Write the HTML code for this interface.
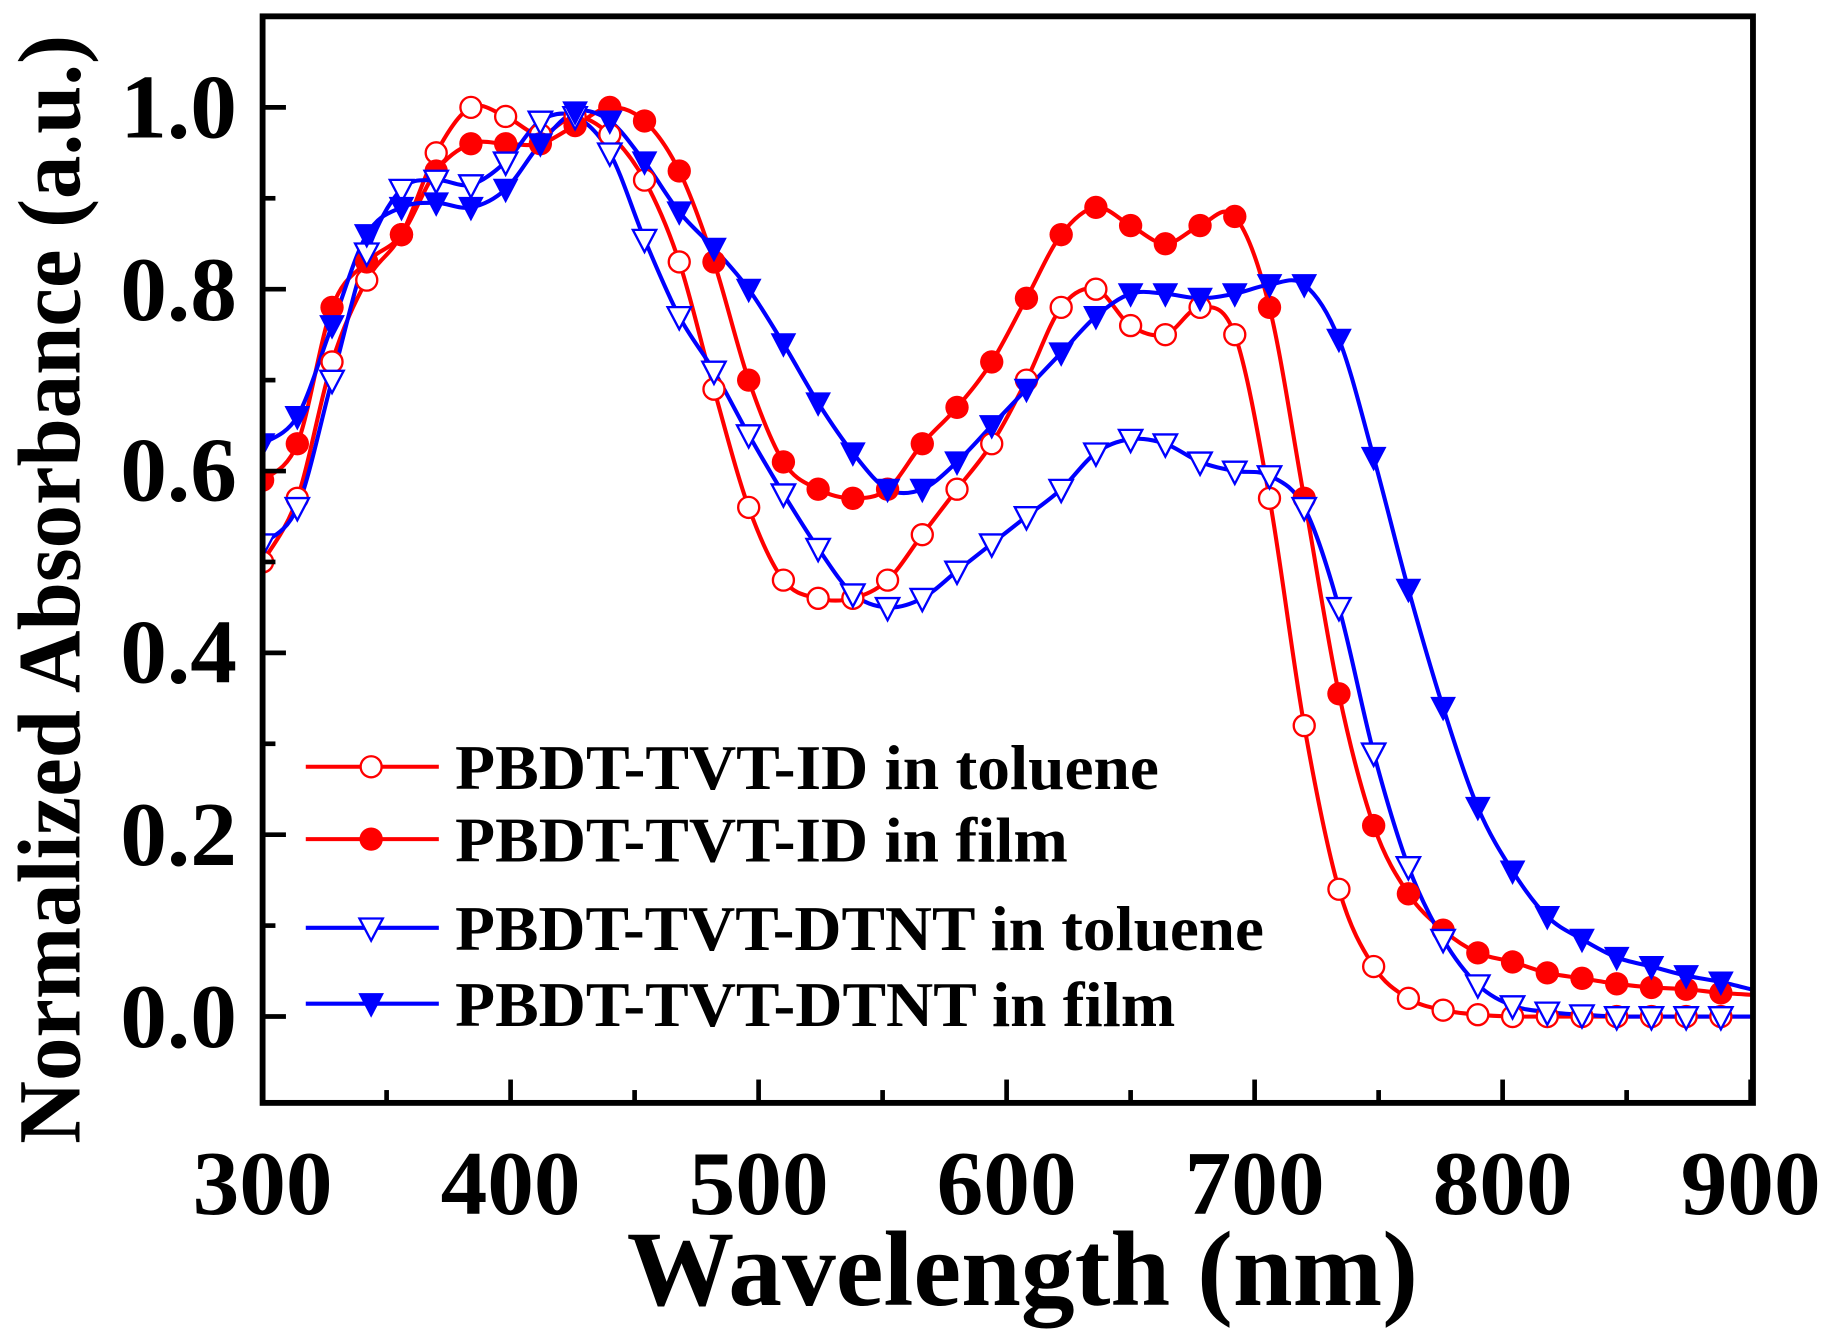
<!DOCTYPE html>
<html><head><meta charset="utf-8"><style>
html,body{margin:0;padding:0;background:#fff;}
svg{display:block;}
text{font-family:"Liberation Serif",serif;font-weight:bold;fill:#000;}
</style></head><body>
<svg id="s" width="1830" height="1337" viewBox="0 0 1568 1145.6" preserveAspectRatio="none" xmlns="http://www.w3.org/2000/svg">
<g id="data"></g>
<rect x="225" y="14" width="1277" height="931" fill="none" stroke="#000" stroke-width="5"/>
<g id="ticks" stroke="#000" stroke-width="4"></g>
<g font-size="78" text-anchor="middle">
<text x="225" y="1040" textLength="120" lengthAdjust="spacingAndGlyphs">300</text><text x="437.5" y="1040" textLength="120" lengthAdjust="spacingAndGlyphs">400</text><text x="650" y="1040" textLength="120" lengthAdjust="spacingAndGlyphs">500</text>
<text x="862.5" y="1040" textLength="120" lengthAdjust="spacingAndGlyphs">600</text><text x="1075" y="1040" textLength="120" lengthAdjust="spacingAndGlyphs">700</text><text x="1287.5" y="1040" textLength="120" lengthAdjust="spacingAndGlyphs">800</text><text x="1500" y="1040" textLength="120" lengthAdjust="spacingAndGlyphs">900</text>
</g>
<g font-size="78" text-anchor="end">
<text x="203" y="897" textLength="100" lengthAdjust="spacingAndGlyphs">0.0</text><text x="203" y="741" textLength="100" lengthAdjust="spacingAndGlyphs">0.2</text><text x="203" y="585" textLength="100" lengthAdjust="spacingAndGlyphs">0.4</text>
<text x="203" y="429" textLength="100" lengthAdjust="spacingAndGlyphs">0.6</text><text x="203" y="274" textLength="100" lengthAdjust="spacingAndGlyphs">0.8</text><text x="203" y="118" textLength="100" lengthAdjust="spacingAndGlyphs">1.0</text>
</g>
<text x="876" y="1118" font-size="92" text-anchor="middle" textLength="678" lengthAdjust="spacingAndGlyphs">Wavelength (nm)</text>
<text transform="translate(68,505) rotate(-90)" font-size="76" text-anchor="middle" textLength="950" lengthAdjust="spacingAndGlyphs">Normalized Absorbance (a.u.)</text>
<g id="legend"></g>
</svg>
<script>
var X=function(l){return 225+2.125*(l-300);},Y=function(a){return 871-779*a;};
var lam=[];for(var l=300;l<=888;l+=14)lam.push(l);
function mk(arr){var o=[];for(var i=0;i<arr.length;i++)o.push([lam[i],arr[i]]);return o;}
var ro=[0.5,0.57,0.72,0.81,0.86,0.95,1.0,0.99,0.97,0.99,0.97,0.92,0.83,0.69,0.56,0.48,0.46,0.46,0.48,0.53,0.58,0.63,0.70,0.78,0.80,0.76,0.75,0.78,0.75,0.57,0.32,0.14,0.055,0.02,0.007,0.002,0,0,0,0,0,0,0];
var rf=[0.59,0.63,0.78,0.83,0.86,0.93,0.96,0.96,0.96,0.98,1.0,0.985,0.93,0.83,0.70,0.61,0.58,0.57,0.58,0.63,0.67,0.72,0.79,0.86,0.89,0.87,0.85,0.87,0.88,0.78,0.57,0.355,0.21,0.135,0.095,0.07,0.06,0.048,0.042,0.036,0.032,0.03,0.026];
var bo=[0.52,0.56,0.70,0.84,0.91,0.92,0.915,0.94,0.985,0.99,0.95,0.855,0.77,0.71,0.64,0.575,0.515,0.465,0.45,0.46,0.49,0.52,0.55,0.58,0.62,0.635,0.63,0.61,0.60,0.595,0.56,0.45,0.29,0.165,0.085,0.035,0.012,0.005,0.002,0,0,0,0];
var bf=[0.63,0.66,0.76,0.86,0.89,0.895,0.89,0.91,0.96,0.995,0.985,0.94,0.885,0.845,0.80,0.74,0.675,0.62,0.58,0.58,0.61,0.65,0.69,0.73,0.77,0.795,0.795,0.79,0.795,0.805,0.805,0.745,0.615,0.47,0.34,0.23,0.16,0.11,0.085,0.065,0.055,0.045,0.038];
var ns="http://www.w3.org/2000/svg";
function el(t,a,p){var e=document.createElementNS(ns,t);for(var k in a)e.setAttribute(k,a[k]);p.appendChild(e);return e;}
function path(pts){var p=pts.map(function(q){return [X(q[0]),Y(q[1])];});var d="M"+p[0][0]+","+p[0][1];
for(var i=0;i<p.length-1;i++){var p0=p[i-1]||p[i],p1=p[i],p2=p[i+1],p3=p[i+2]||p2;
d+=" C"+(p1[0]+(p2[0]-p0[0])/6)+","+(p1[1]+(p2[1]-p0[1])/6)+" "+(p2[0]-(p3[0]-p1[0])/6)+","+(p2[1]-(p3[1]-p1[1])/6)+" "+p2[0]+","+p2[1];}return d;}
function marker(x,y,type,col,g){
 if(type=="co")el("circle",{cx:x,cy:y,r:9,fill:"#fff",stroke:col,"stroke-width":2},g);
 else if(type=="cf")el("circle",{cx:x,cy:y,r:10,fill:col},g);
 else if(type=="to")el("polygon",{points:(x-10)+","+(y-8)+" "+(x+10)+","+(y-8)+" "+x+","+(y+11),fill:"#fff",stroke:col,"stroke-width":2},g);
 else el("polygon",{points:(x-11)+","+(y-9)+" "+(x+11)+","+(y-9)+" "+x+","+(y+12),fill:col},g);}
var D=document.getElementById("data");
var cp=el("clipPath",{id:"c"},D);el("rect",{x:227,y:16,width:1273,height:927},cp);
var G=el("g",{"clip-path":"url(#c)"},D);
var series=[[ro,"#f00","co",0],[rf,"#f00","cf",0.024],[bo,"#00f","to",0],[bf,"#00f","tf",0.03]];
series.forEach(function(s){var pts=mk(s[0]);pts.push([900,s[3]]);el("path",{d:path(pts),fill:"none",stroke:s[1],"stroke-width":3.5},G);});
series.forEach(function(s){var pts=mk(s[0]);pts.forEach(function(q){marker(X(q[0]),Y(q[1]),s[2],s[1],G);});});
var T=document.getElementById("ticks");
for(var l=300;l<=900;l+=50){var x=X(l),len=(l%100==0)?20:11;el("line",{x1:x,y1:945,x2:x,y2:945-len},T);}
for(var a=-0.1;a<=1.1;a+=0.1){var v=Math.round(a*10);var y=Y(v/10);if(y<16||y>943)continue;var len=(v%2==0)?20:11;el("line",{x1:225,y1:y,x2:225+len,y2:y},T);}
var L=document.getElementById("legend");
var labels=[["PBDT-TVT-ID in toluene",657,"#f00","co",603],["PBDT-TVT-ID in film",719,"#f00","cf",525],["PBDT-TVT-DTNT in toluene",795,"#00f","to",693],["PBDT-TVT-DTNT in film",860,"#00f","tf",617]];
labels.forEach(function(e){el("line",{x1:262,y1:e[1],x2:376,y2:e[1],stroke:e[2],"stroke-width":3.5},L);marker(318,e[1],e[3],e[2],L);
var t=el("text",{x:390,y:e[1]+19,"font-size":54,textLength:e[4],lengthAdjust:"spacingAndGlyphs"},L);t.textContent=e[0];});
</script>
</body></html>
